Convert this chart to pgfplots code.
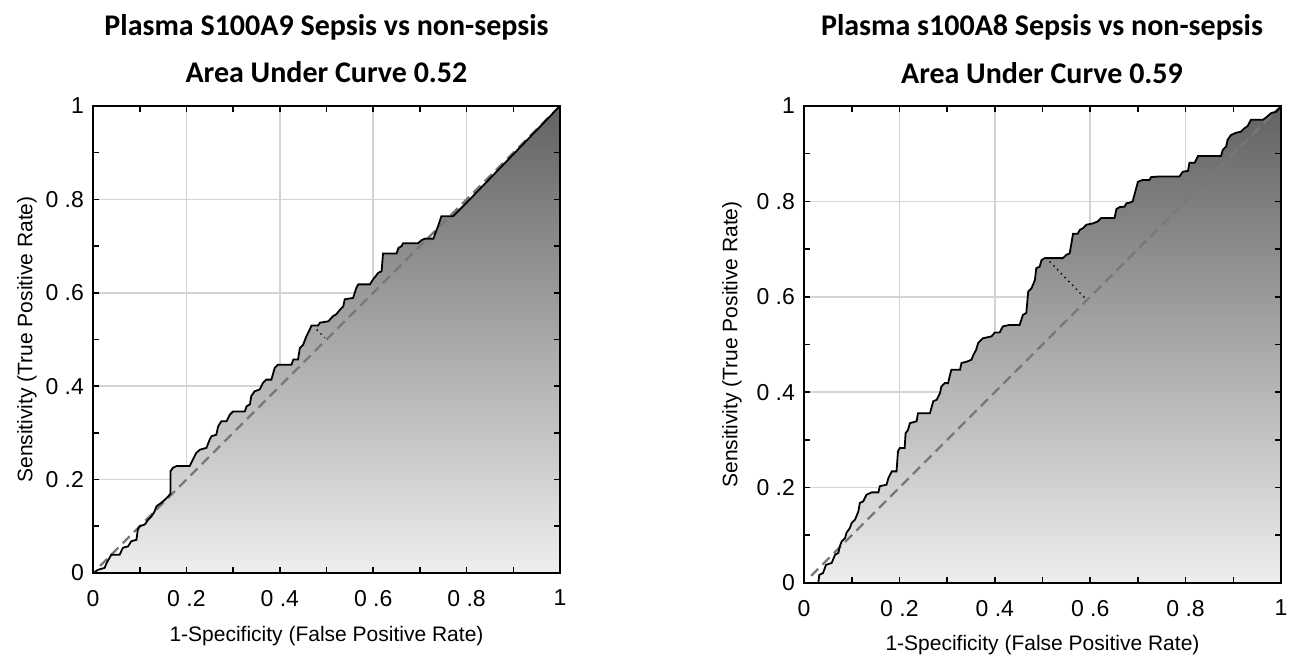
\documentclass[border=0pt]{standalone}
\usepackage{fontspec}
\setmainfont{Liberation Sans}
\newfontfamily\titlefont{Carlito}
\usepackage{pgfplots}
\usepackage{pgfplotstable}
\pgfplotsset{compat=1.18}
\definecolor{fillbot}{RGB}{238,238,238}
\definecolor{filltop}{RGB}{98,98,98}
\definecolor{gridgray}{RGB}{212,212,212}
\definecolor{diaggray}{RGB}{120,120,120}

% S100A9 ROC curve
\pgfplotstableread{
x y
0 0
0.011 0.007
0.025 0.011
0.029 0.021
0.039 0.039
0.057 0.039
0.064 0.054
0.075 0.057
0.082 0.068
0.093 0.071
0.096 0.093
0.100 0.100
0.111 0.104
0.118 0.114
0.125 0.121
0.132 0.132
0.136 0.143
0.146 0.150
0.154 0.157
0.161 0.164
0.166 0.170
0.166 0.218
0.171 0.225
0.179 0.229
0.207 0.229
0.214 0.243
0.221 0.257
0.229 0.264
0.243 0.268
0.250 0.286
0.254 0.293
0.264 0.296
0.268 0.314
0.275 0.325
0.286 0.325
0.293 0.339
0.300 0.346
0.325 0.346
0.329 0.357
0.336 0.361
0.339 0.379
0.346 0.389
0.357 0.393
0.364 0.407
0.371 0.414
0.382 0.414
0.389 0.439
0.396 0.446
0.425 0.446
0.429 0.457
0.439 0.457
0.443 0.482
0.450 0.489
0.457 0.507
0.464 0.521
0.468 0.530
0.482 0.530
0.486 0.536
0.504 0.539
0.514 0.550
0.521 0.554
0.529 0.564
0.536 0.571
0.539 0.586
0.557 0.589
0.564 0.611
0.568 0.618
0.593 0.618
0.600 0.629
0.611 0.643
0.618 0.646
0.621 0.684
0.650 0.684
0.654 0.696
0.661 0.700
0.664 0.706
0.696 0.706
0.704 0.713
0.711 0.716
0.729 0.716
0.732 0.725
0.739 0.743
0.746 0.764
0.771 0.764
0.800 0.793
1 1
}\rocA

% s100A8 ROC curve
\pgfplotstableread{
x y
0 0
0.030 0
0.032 0.017
0.040 0.021
0.046 0.038
0.058 0.042
0.065 0.059
0.072 0.063
0.075 0.077
0.079 0.087
0.086 0.094
0.089 0.105
0.096 0.115
0.100 0.126
0.107 0.133
0.110 0.140
0.114 0.150
0.117 0.168
0.124 0.171
0.131 0.185
0.142 0.190
0.156 0.190
0.159 0.203
0.173 0.206
0.177 0.220
0.184 0.234
0.194 0.234
0.197 0.276
0.201 0.283
0.211 0.283
0.213 0.314
0.218 0.321
0.222 0.335
0.236 0.339
0.239 0.356
0.264 0.356
0.271 0.381
0.278 0.384
0.285 0.398
0.288 0.412
0.295 0.419
0.302 0.419
0.306 0.436
0.309 0.447
0.327 0.447
0.330 0.461
0.341 0.464
0.351 0.468
0.355 0.478
0.361 0.489
0.365 0.503
0.375 0.513
0.393 0.517
0.400 0.525
0.410 0.525
0.417 0.538
0.431 0.541
0.452 0.541
0.459 0.562
0.466 0.566
0.470 0.611
0.477 0.618
0.484 0.635
0.487 0.660
0.494 0.663
0.498 0.677
0.505 0.681
0.543 0.681
0.550 0.688
0.557 0.691
0.564 0.732
0.574 0.732
0.578 0.740
0.585 0.744
0.592 0.751
0.606 0.754
0.616 0.758
0.623 0.765
0.651 0.765
0.655 0.784
0.662 0.788
0.672 0.789
0.676 0.796
0.682 0.797
0.689 0.800
0.700 0.841
0.710 0.845
0.724 0.845
0.728 0.851
0.742 0.852
0.787 0.852
0.794 0.862
0.805 0.864
0.808 0.881
0.819 0.881
0.826 0.895
0.874 0.895
0.878 0.908
0.885 0.915
0.888 0.929
0.895 0.939
0.906 0.944
0.916 0.946
0.923 0.953
0.930 0.958
0.937 0.971
0.962 0.971
0.969 0.976
0.979 0.985
0.990 0.988
0.997 0.995
1 1
}\rocB

\pgfplotsset{rocaxis/.style={
  scale only axis,
  anchor=south west,
  xmin=0, xmax=1, ymin=0, ymax=1,
  axis on top,
  axis line style={line width=1pt},
  xtick={0,0.2,0.4,0.6,0.8,1},
  ytick={0,0.2,0.4,0.6,0.8,1},
  xticklabels={0,0 .2,0 .4,0 .6,0 .8,1},
  yticklabels={0,0 .2,0 .4,0 .6,0 .8,1},
  minor tick num=1,
  tick align=inside,
  major tick length=3pt,
  minor tick length=3pt,
  tick style={black, line width=0.8pt},
  tick label style={font=\fontsize{11.5}{13}\selectfont},
  xticklabel style={yshift=-5pt},
  yticklabel style={xshift=-1pt},
}}

\newcommand{\rocgrid}{
  \draw[gridgray, line width=0.8pt] (axis cs:0.2,0) -- (axis cs:0.2,1);
  \draw[gridgray, line width=0.8pt] (axis cs:0.4,0) -- (axis cs:0.4,1);
  \draw[gridgray, line width=0.8pt] (axis cs:0.6,0) -- (axis cs:0.6,1);
  \draw[gridgray, line width=0.8pt] (axis cs:0.8,0) -- (axis cs:0.8,1);
  \draw[gridgray, line width=0.8pt] (axis cs:0,0.2) -- (axis cs:1,0.2);
  \draw[gridgray, line width=0.8pt] (axis cs:0,0.4) -- (axis cs:1,0.4);
  \draw[gridgray, line width=0.8pt] (axis cs:0,0.6) -- (axis cs:1,0.6);
  \draw[gridgray, line width=0.8pt] (axis cs:0,0.8) -- (axis cs:1,0.8);
}

\begin{document}
\begin{tikzpicture}
\path[use as bounding box] (0,0) rectangle (645pt,328pt);

\begin{axis}[rocaxis, at={(46.5pt,41.5pt)}, width=233.5pt, height=233.5pt]
\rocgrid
\addplot[draw=none, top color=filltop, bottom color=fillbot] table {\rocA} \closedcycle;
\addplot[diaggray, line width=1.2pt, dash pattern=on 5pt off 3pt] coordinates {(0.015,0.015) (1,1)};
\addplot[black, line width=0.9pt] table {\rocA};
\addplot[black, dotted, line width=0.7pt] coordinates {(0.479,0.521) (0.496,0.504)};
\end{axis}

\begin{axis}[rocaxis, at={(402pt,36.5pt)}, width=238.5pt, height=238.5pt]
\rocgrid
\addplot[draw=none, top color=filltop, bottom color=fillbot] table {\rocB} \closedcycle;
\addplot[diaggray, line width=1.2pt, dash pattern=on 5pt off 3pt] coordinates {(0.015,0.015) (1,1)};
\addplot[black, line width=0.9pt] table {\rocB};
\addplot[black, dotted, line width=0.7pt] coordinates {(0.515,0.674) (0.592,0.594)};
\end{axis}

\node[font=\titlefont\bfseries\fontsize{15}{17}\selectfont] at (163.25pt,314.5pt) {Plasma S100A9 Sepsis vs non-sepsis};
\node[font=\titlefont\bfseries\fontsize{15}{17}\selectfont] at (163.25pt,292pt) {Area Under Curve 0.52};
\node[font=\titlefont\bfseries\fontsize{15}{17}\selectfont] at (521pt,314.5pt) {Plasma s100A8 Sepsis vs non-sepsis};
\node[font=\titlefont\bfseries\fontsize{15}{17}\selectfont] at (521pt,291.5pt) {Area Under Curve 0.59};

\node[font=\fontsize{10.5}{12}\selectfont] at (163.25pt,10pt) {1-Specificity (False Positive Rate)};
\node[font=\fontsize{10.5}{12}\selectfont] at (521.25pt,5.5pt) {1-Specificity (False Positive Rate)};
\node[font=\fontsize{10.5}{12}\selectfont, rotate=90] at (13.5pt,158.25pt) {Sensitivity (True Positive Rate)};
\node[font=\fontsize{10.5}{12}\selectfont, rotate=90] at (366pt,155.75pt) {Sensitivity (True Positive Rate)};
\end{tikzpicture}
\end{document}
